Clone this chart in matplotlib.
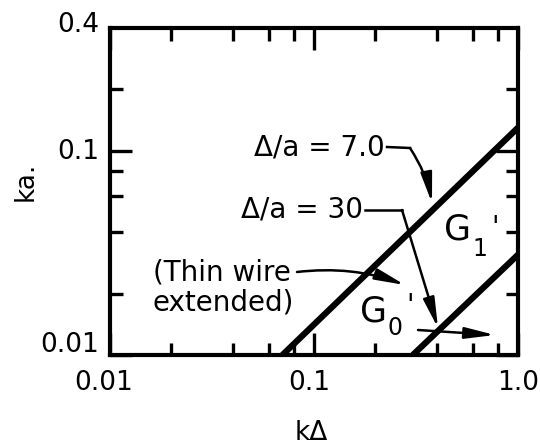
import matplotlib
matplotlib.use("Agg")
import matplotlib.pyplot as plt
from matplotlib.ticker import LogLocator, NullFormatter, FixedLocator, FixedFormatter
from matplotlib.transforms import ScaledTranslation

# ---- data ----
line_7_x = [0.07, 1.0]      # Delta/a = 7.0 boundary
line_7_y = [0.01, 0.13]
line_30_x = [0.305, 1.0]    # Delta/a = 30 boundary
line_30_y = [0.01, 0.031]

x_major = [0.01, 0.1, 1.0]
x_major_labels = ["0.01", "0.1", "1.0"]
y_major = [0.01, 0.1, 0.4]
y_major_labels = ["0.01", "0.1", "0.4"]
minor_subs = [2, 4, 6, 8]

plt.rcParams['font.family'] = ['DejaVu Sans']

fig = plt.figure(figsize=(5.4, 4.45), dpi=100)
ax = fig.add_axes([110/540, 1-355/445, 408/540, 327/445])
ax.set_xscale('log')
ax.set_yscale('log')
ax.set_xlim(0.01, 1.0)
ax.set_ylim(0.01, 0.4)

ax.plot(line_7_x, line_7_y, color='black', lw=4.5, solid_capstyle='butt')
ax.plot(line_30_x, line_30_y, color='black', lw=4.5, solid_capstyle='butt')

for s in ax.spines.values():
    s.set_linewidth(3)

ax.xaxis.set_major_locator(FixedLocator(x_major))
ax.xaxis.set_major_formatter(FixedFormatter(x_major_labels))
ax.yaxis.set_major_locator(FixedLocator(y_major))
ax.yaxis.set_major_formatter(FixedFormatter(y_major_labels))
ax.xaxis.set_minor_locator(LogLocator(base=10, subs=minor_subs))
ax.yaxis.set_minor_locator(LogLocator(base=10, subs=minor_subs))
ax.xaxis.set_minor_formatter(NullFormatter())
ax.yaxis.set_minor_formatter(NullFormatter())

ax.tick_params(which='both', direction='in', top=True, right=True, width=2.4, color='black')
ax.tick_params(which='major', length=16)
ax.tick_params(which='minor', length=9)
ax.tick_params(axis='x', which='major', labelsize=19, pad=11)
ax.tick_params(axis='y', which='major', labelsize=19, pad=8)

# hide the tick mark at the top-left corner (0.4)
yt = ax.yaxis.get_major_ticks()
yt[2].tick1line.set_visible(False)
yt[2].tick2line.set_visible(False)

# small offsets of tick labels as in the reference
fig.canvas.draw()
xoffs = [-6, -5, 0]
for lab, dx in zip(ax.get_xticklabels(), xoffs):
    lab.set_transform(lab.get_transform() + ScaledTranslation(dx/100, 0, fig.dpi_scale_trans))
yoffs = [13, 2, 6]
for lab, dy in zip(ax.get_yticklabels(), yoffs):
    lab.set_transform(lab.get_transform() + ScaledTranslation(0, dy/100, fig.dpi_scale_trans))

fig.text(26/540, 1-181/445, "ka.", rotation=90, fontsize=19, ha='center', va='center')
fig.text(311/540, 1-433/445, "k\u0394", fontsize=19, ha='center', va='center')

def fx(px):
    return (px - 110) / 408

def fy(py):
    return (355 - py) / 327

T = ax.transAxes
fs = 20
ax.text(fx(385), fy(147), "\u0394/a = 7.0", transform=T, fontsize=fs, ha='right', va='center')
ax.text(fx(363), fy(210), "\u0394/a = 30", transform=T, fontsize=fs, ha='right', va='center')
ax.text(fx(153), fy(272), "(Thin wire", transform=T, fontsize=fs, ha='left', va='center')
ax.text(fx(153), fy(303), "extended)", transform=T, fontsize=fs, ha='left', va='center')

ax.text(fx(458), fy(230), "G", transform=T, fontsize=25, ha='center', va='center')
ax.text(fx(480), fy(249), "1", transform=T, fontsize=17, ha='center', va='center')
ax.text(fx(495), fy(228), "'", transform=T, fontsize=20, ha='center', va='center')
ax.text(fx(374), fy(311), "G", transform=T, fontsize=25, ha='center', va='center')
ax.text(fx(395), fy(328), "0", transform=T, fontsize=17, ha='center', va='center')
ax.text(fx(410), fy(306), "'", transform=T, fontsize=20, ha='center', va='center')

astyle = "-|>,head_length=0.9,head_width=0.17"
def arrow(p0, p1, rad=0.0):
    ax.annotate("", xy=(fx(p1[0]), fy(p1[1])), xycoords=T,
                xytext=(fx(p0[0]), fy(p0[1])), textcoords=T,
                arrowprops=dict(arrowstyle=astyle, color='black', lw=1.8,
                                mutation_scale=20, shrinkA=0, shrinkB=0,
                                connectionstyle=f"arc3,rad={rad}"))

# Delta/a = 7.0 leader
ax.plot([fx(387), fx(410)], [fy(147), fy(148)], transform=T, color='black', lw=1.8)
arrow((410, 148), (432, 203), rad=-0.1)
# Delta/a = 30 leader
ax.plot([fx(365), fx(402)], [fy(210), fy(210)], transform=T, color='black', lw=1.8)
arrow((402, 210), (438, 328))
# thin wire arrow
arrow((297, 272), (405, 285), rad=-0.12)
# G0' arrow
arrow((418, 330), (495, 335))

fig.savefig("out.png", dpi=100)
